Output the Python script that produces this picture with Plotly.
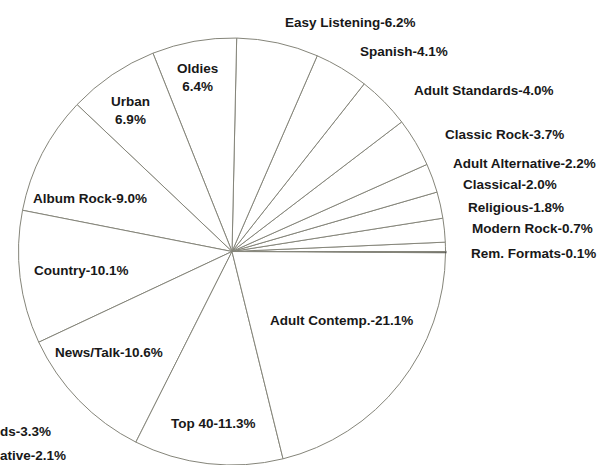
import plotly.graph_objects as go

# Format shares (%), listed counterclockwise starting at 3 o'clock
formats = [
    "Rem. Formats", "Modern Rock", "Religious", "Classical", "Adult Alternative",
    "Classic Rock", "Adult Standards", "Spanish", "Easy Listening", "Oldies",
    "Urban", "Album Rock", "Country", "News/Talk", "Top 40", "Adult Contemp.",
]
shares = [0.1, 0.7, 1.8, 2.0, 2.2, 3.7, 4.0, 4.1, 6.2, 6.4, 6.9, 9.0, 10.1, 10.6, 11.3, 21.1]

# Label ends spilling over from the neighbouring chart on the page
side_fragments = ["ds", "ative"]
side_shares = [3.3, 2.1]

W, H = 600, 465
cx, cy, r = 232, 251.5, 213.5

slice_colors = ["#111111" if f == "Rem. Formats" else "white" for f in formats]
edge_colors = ["#111111" if f == "Rem. Formats" else "#85857a" for f in formats]
edge_widths = [1.8 if f == "Rem. Formats" else 1 for f in formats]

fig = go.Figure(go.Pie(
    labels=formats,
    values=shares,
    sort=False,
    direction="counterclockwise",
    rotation=90,
    textinfo="none",
    hoverinfo="label+value",
    marker=dict(colors=slice_colors, line=dict(color=edge_colors, width=edge_widths)),
    domain=dict(x=[(cx - r) / W, (cx + r) / W], y=[(H - cy - r) / H, (H - cy + r) / H]),
    showlegend=False,
))

# Label placement (pixel centres)
label_pos = {
    "Easy Listening": (350, 23),
    "Spanish": (404, 52),
    "Adult Standards": (484, 91),
    "Classic Rock": (504, 135),
    "Adult Alternative": (524, 163),
    "Classical": (510, 184),
    "Religious": (516, 207),
    "Modern Rock": (532, 229),
    "Rem. Formats": (533, 253),
    "Adult Contemp.": (341, 320),
    "Top 40": (213, 423),
    "News/Talk": (109, 352),
    "Country": (81, 270),
    "Album Rock": (90, 198),
    "Urban": (130, 110),
    "Oldies": (197, 78),
}
two_line = {"Urban", "Oldies"}

font = dict(family="Liberation Sans, Arial, sans-serif", size=13.5, color="#181818")


def bold(s):
    return f"<b>{s}</b>"


annotations = []
for name, val in zip(formats, shares):
    x, y = label_pos[name]
    text = f"{bold(name)}<br>{bold(str(val) + '%')}" if name in two_line else bold(f"{name}-{val}%")
    annotations.append(dict(
        x=x / W, y=1 - y / H, xref="paper", yref="paper",
        text=text, showarrow=False, font=font,
        xanchor="center", yanchor="middle", align="center",
    ))

side_pos = [(0, 431), (0, 455)]
for (frag, val), (x, y) in zip(zip(side_fragments, side_shares), side_pos):
    annotations.append(dict(
        x=x / W, y=1 - y / H, xref="paper", yref="paper",
        text=bold(f"{frag}-{val}%"), showarrow=False, font=font,
        xanchor="left", yanchor="middle", xshift=-2,
    ))

fig.update_layout(
    width=W, height=H,
    margin=dict(l=0, r=0, t=0, b=0),
    paper_bgcolor="white",
    plot_bgcolor="white",
    annotations=annotations,
)

fig.write_html("out.html")
